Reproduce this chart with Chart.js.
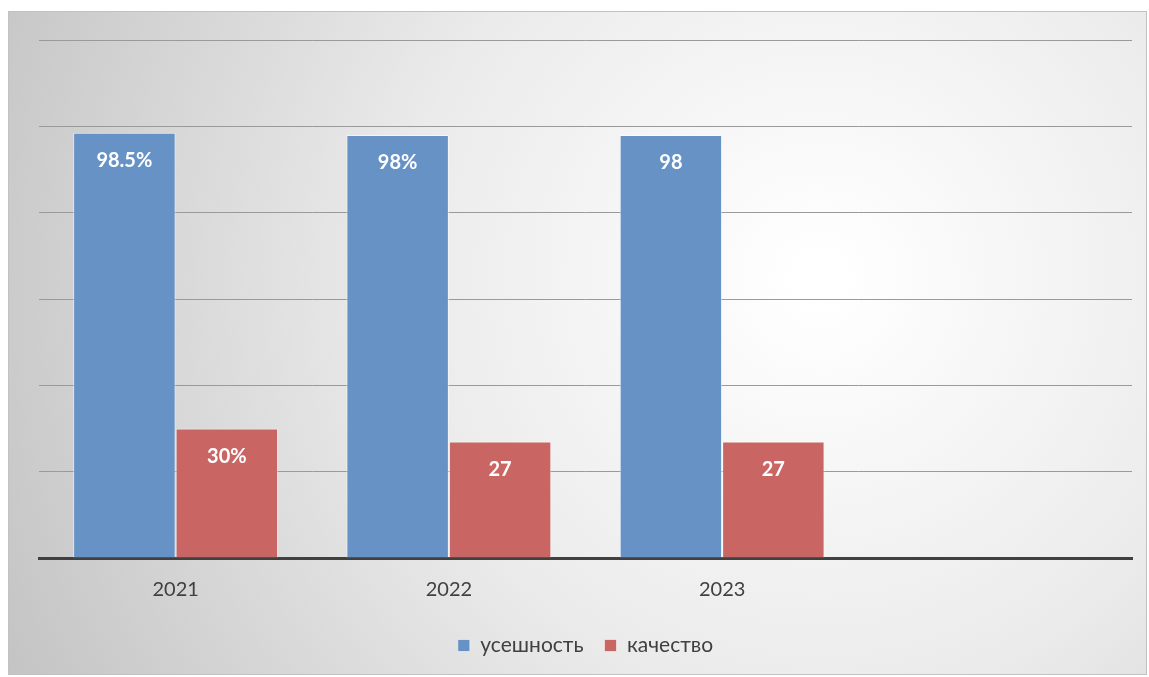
<!DOCTYPE html>
<html>
<head>
<meta charset="utf-8">
<script src="https://cdn.jsdelivr.net/npm/chart.js@4"></script>
<style>
  html, body { margin: 0; padding: 0; background: #ffffff; }
  #wrap { width: 1149px; height: 677px; position: relative; }
</style>
</head>
<body>
<div id="wrap"><canvas id="chart" width="1149" height="677"></canvas></div>
<script>
// Data
const categories = ["2021", "2022", "2023", ""];
const successValues = [98.5, 98, 98, null];
const qualityValues = [30, 27, 27, null];
const successLabels = ["98.5%", "98%", "98", ""];
const qualityLabels = ["30%", "27", "27", ""];
const seriesNames = ["усешность", "качество"];

const FONT = "Lato, 'Open Sans', sans-serif";

// Gray radial background with a frame, like the office chart area
const backgroundPlugin = {
  id: "frameBackground",
  beforeDraw(chart) {
    const ctx = chart.ctx;
    const x0 = 8, y0 = 11, x1 = 1147, y1 = 675;
    ctx.save();
    const g = ctx.createRadialGradient(820, 280, 20, 820, 280, 900);
    g.addColorStop(0, "#ffffff");
    g.addColorStop(0.45, "#ebebeb");
    g.addColorStop(1, "#c4c4c4");
    ctx.fillStyle = g;
    ctx.fillRect(x0, y0, x1 - x0, y1 - y0);
    ctx.strokeStyle = "#c2c2c2";
    ctx.lineWidth = 1;
    ctx.strokeRect(x0 + 0.5, y0 + 0.5, x1 - x0 - 1, y1 - y0 - 1);
    ctx.restore();
  }
};

// White labels inside the top of each bar
const barLabelPlugin = {
  id: "barLabels",
  afterDatasetsDraw(chart) {
    const ctx = chart.ctx;
    const allLabels = [successLabels, qualityLabels];
    ctx.save();
    ctx.fillStyle = "#ffffff";
    ctx.font = "bold 20px " + FONT;
    ctx.textAlign = "center";
    ctx.textBaseline = "middle";
    chart.data.datasets.forEach((ds, i) => {
      chart.getDatasetMeta(i).data.forEach((bar, j) => {
        const text = allLabels[i][j];
        if (!text) return;
        ctx.fillText(text, bar.x, bar.y + 28);
      });
    });
    ctx.restore();
  }
};

new Chart(document.getElementById("chart").getContext("2d"), {
  type: "bar",
  data: {
    labels: categories,
    datasets: [
      {
        label: seriesNames[0],
        data: successValues,
        backgroundColor: "#6792c6",
        borderColor: "rgba(255,255,255,0.55)",
        borderWidth: 1,
        barPercentage: 1,
        categoryPercentage: 0.75
      },
      {
        label: seriesNames[1],
        data: qualityValues,
        backgroundColor: "#c96664",
        borderColor: "rgba(255,255,255,0.55)",
        borderWidth: 1,
        barPercentage: 1,
        categoryPercentage: 0.75
      }
    ]
  },
  options: {
    responsive: false,
    animation: false,
    layout: { padding: { left: 39, right: 17, top: 40, bottom: 11 } },
    plugins: {
      tooltip: { enabled: false },
      legend: {
        position: "bottom",
        labels: {
          color: "#404040",
          font: { family: FONT, size: 21 },
          boxWidth: 12,
          boxHeight: 12,
          padding: 21
        }
      }
    },
    scales: {
      x: {
        grid: { display: false },
        border: { color: "#404040", width: 3 },
        ticks: { color: "#404040", font: { family: FONT, size: 20 }, padding: 12 }
      },
      y: {
        min: 0,
        max: 120,
        ticks: { display: false, stepSize: 20 },
        grid: { color: "#9a9a9a", lineWidth: 1, drawTicks: false },
        border: { display: false }
      }
    }
  },
  plugins: [backgroundPlugin, barLabelPlugin]
});
</script>
</body>
</html>
